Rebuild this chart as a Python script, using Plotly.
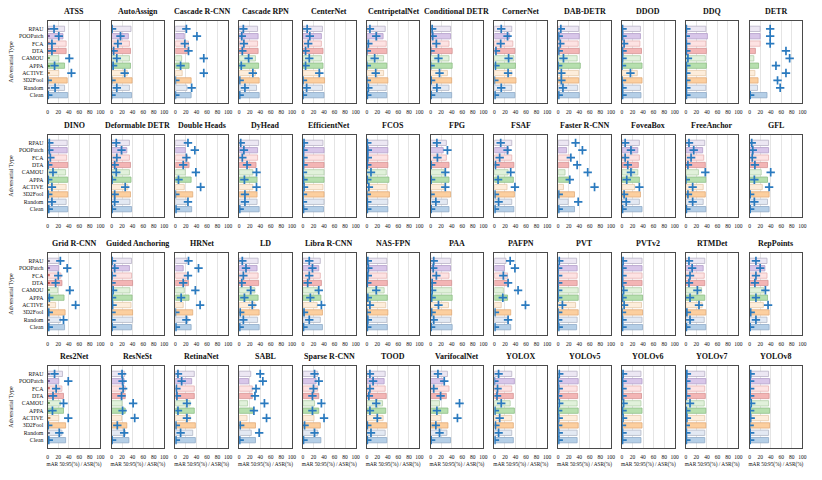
import plotly.graph_objects as go

ATTACKS = ["RPAU", "POOPatch", "FCA", "DTA", "CAMOU", "APPA", "ACTIVE", "3D2Fool", "Random", "Clean"]

MODELS = ["ATSS", "AutoAssign", "Cascade R-CNN", "Cascade RPN", "CenterNet", "CentripetalNet",
          "Conditional DETR", "CornerNet", "DAB-DETR", "DDOD", "DDQ", "DETR",
          "DINO", "Deformable DETR", "Double Heads", "DyHead", "EfficientNet", "FCOS",
          "FPG", "FSAF", "Faster R-CNN", "FoveaBox", "FreeAnchor", "GFL",
          "Grid R-CNN", "Guided Anchoring", "HRNet", "LD", "Libra R-CNN", "NAS-FPN",
          "PAA", "PAFPN", "PVT", "PVTv2", "RTMDet", "RepPoints",
          "Res2Net", "ResNeSt", "RetinaNet", "SABL", "Sparse R-CNN", "TOOD",
          "VarifocalNet", "YOLOX", "YOLOv5", "YOLOv6", "YOLOv7", "YOLOv8"]

# mAR 50:95 (%) per attack, same order as ATTACKS
MAR = [
    [32, 29, 35, 35, 21, 32, 21, 37, 32, 38],   # ATSS
    [37, 32, 34, 36, 34, 36, 30, 39, 34, 38],   # AutoAssign
    [19, 17, 25, 23, 12, 26, 13, 30, 22, 30],   # Cascade R-CNN
    [35, 36, 35, 36, 31, 37, 31, 38, 33, 38],   # Cascade RPN
    [37, 35, 35, 38, 35, 38, 33, 41, 37, 40],   # CenterNet
    [35, 31, 37, 38, 32, 38, 32, 40, 37, 38],   # CentripetalNet
    [38, 38, 35, 41, 35, 41, 32, 40, 35, 40],   # Conditional DETR
    [33, 29, 35, 39, 37, 40, 33, 41, 33, 39],   # CornerNet
    [39, 40, 38, 40, 36, 42, 39, 39, 37, 40],   # DAB-DETR
    [35, 35, 34, 37, 35, 38, 29, 38, 35, 36],   # DDOD
    [38, 41, 38, 39, 37, 39, 38, 39, 38, 39],   # DDQ
    [20, 20, 20, 11, 8, 17, 10, 16, 15, 33],    # DETR
    [37, 37, 36, 38, 34, 38, 35, 38, 35, 38],   # DINO
    [34, 29, 34, 36, 34, 37, 31, 36, 35, 38],   # Deformable DETR
    [20, 19, 23, 26, 19, 30, 17, 33, 23, 31],   # Double Heads
    [37, 35, 35, 32, 26, 34, 26, 34, 34, 38],   # DyHead
    [38, 40, 40, 40, 40, 40, 38, 40, 40, 39],   # EfficientNet
    [40, 40, 40, 40, 37, 42, 38, 43, 40, 40],   # FCOS
    [30, 24, 30, 35, 26, 35, 26, 38, 32, 35],   # FPG
    [33, 27, 33, 37, 26, 36, 24, 38, 33, 37],   # FSAF
    [20, 16, 23, 20, 13, 20, 10, 31, 19, 31],   # Faster R-CNN
    [33, 30, 33, 31, 30, 33, 24, 35, 33, 38],   # FoveaBox
    [36, 32, 34, 37, 24, 38, 33, 37, 33, 38],   # FreeAnchor
    [36, 36, 36, 34, 22, 34, 24, 37, 34, 37],   # GFL
    [21, 21, 25, 27, 19, 31, 15, 33, 24, 32],   # Grid R-CNN
    [38, 34, 38, 40, 35, 39, 37, 40, 40, 38],   # Guided Anchoring
    [22, 15, 24, 25, 17, 26, 15, 33, 24, 30],   # HRNet
    [36, 34, 36, 37, 30, 36, 30, 38, 35, 38],   # LD
    [33, 30, 33, 35, 28, 34, 27, 37, 33, 37],   # Libra R-CNN
    [38, 38, 38, 39, 33, 39, 36, 40, 38, 39],   # NAS-FPN
    [38, 38, 35, 40, 40, 41, 34, 40, 38, 41],   # PAA
    [22, 19, 25, 27, 17, 25, 13, 31, 25, 31],   # PAFPN
    [35, 36, 36, 36, 38, 38, 33, 38, 36, 35],   # PVT
    [38, 38, 38, 38, 37, 39, 37, 39, 38, 39],   # PVTv2
    [36, 33, 35, 36, 30, 36, 31, 38, 35, 38],   # RTMDet
    [33, 29, 33, 35, 27, 34, 26, 37, 33, 37],   # RepPoints
    [28, 21, 27, 30, 24, 30, 21, 34, 27, 34],   # Res2Net
    [25, 24, 26, 26, 20, 26, 19, 29, 26, 33],   # ResNeSt
    [36, 31, 36, 36, 28, 36, 28, 38, 33, 38],   # RetinaNet
    [22, 18, 25, 25, 16, 26, 15, 31, 23, 31],   # SABL
    [28, 25, 28, 30, 22, 30, 21, 33, 28, 34],   # Sparse R-CNN
    [35, 33, 35, 37, 30, 36, 31, 38, 35, 38],   # TOOD
    [32, 24, 35, 30, 17, 33, 19, 33, 31, 38],   # VarifocalNet
    [33, 38, 33, 36, 30, 38, 33, 36, 33, 36],   # YOLOX
    [36, 38, 36, 37, 36, 38, 36, 38, 36, 36],   # YOLOv5
    [36, 38, 36, 37, 36, 38, 36, 38, 36, 36],   # YOLOv6
    [36, 38, 36, 37, 35, 38, 36, 38, 36, 36],   # YOLOv7
    [36, 38, 36, 37, 36, 38, 36, 38, 36, 36],   # YOLOv8
]

# ASR (%) per attack
ASR = [
    [12, 21, 8, 8, 41, 13, 45, 0, 14, 1],       # ATSS
    [1, 17, 12, 4, 10, 3, 25, 0, 10, 0],        # AutoAssign
    [21, 41, 18, 25, 54, 10, 54, 0, 31, 0],     # Cascade R-CNN
    [8, 5, 9, 6, 18, 4, 26, 1, 11, 1],          # Cascade RPN
    [8, 13, 10, 5, 12, 5, 31, 0, 7, 0],         # CenterNet
    [6, 18, 3, 0, 15, 0, 17, 0, 3, 1],          # CentripetalNet
    [3, 4, 11, 0, 15, 0, 17, 1, 12, 1],         # Conditional DETR
    [13, 25, 12, 3, 27, 2, 26, 0, 13, 1],       # CornerNet
    [5, 1, 4, 1, 10, 0, 6, 6, 9, 1],            # DAB-DETR
    [1, 1, 4, 1, 1, 0, 16, 0, 1, 1],            # DDOD
    [1, 0, 1, 1, 4, 1, 1, 1, 1, 1],             # DDQ
    [39, 39, 39, 69, 76, 50, 69, 53, 58, 1],    # DETR
    [3, 3, 5, 1, 10, 1, 8, 1, 8, 2],            # DINO
    [9, 19, 10, 6, 9, 1, 26, 6, 6, 1],          # Deformable DETR
    [24, 37, 21, 15, 39, 6, 48, 0, 24, 1],      # Double Heads
    [3, 9, 6, 15, 33, 10, 33, 11, 11, 1],       # DyHead
    [2, 1, 1, 1, 0, 1, 2, 0, 0, 1],             # EfficientNet
    [1, 2, 2, 1, 8, 1, 4, 0, 1, 1],             # FCOS
    [12, 32, 13, 1, 28, 1, 28, 0, 10, 1],       # FPG
    [12, 25, 10, 2, 31, 7, 39, 1, 8, 1],        # FSAF
    [33, 46, 24, 36, 56, 22, 69, 1, 38, 1],     # Faster R-CNN
    [6, 17, 6, 11, 17, 9, 33, 4, 8, 1],         # FoveaBox
    [6, 15, 10, 4, 37, 0, 13, 4, 13, 1],        # FreeAnchor
    [4, 6, 5, 10, 40, 9, 37, 1, 9, 1],          # GFL
    [24, 37, 20, 15, 42, 3, 53, 2, 30, 2],      # Grid R-CNN
    [1, 6, 1, 0, 3, 1, 2, 0, 0, 1],             # Guided Anchoring
    [25, 44, 24, 15, 38, 11, 47, 0, 21, 1],     # HRNet
    [6, 13, 8, 5, 22, 10, 25, 2, 8, 1],         # LD
    [12, 18, 12, 9, 30, 14, 35, 2, 12, 1],      # Libra R-CNN
    [2, 3, 2, 1, 18, 2, 6, 0, 2, 1],            # NAS-FPN
    [6, 5, 11, 3, 3, 2, 15, 2, 6, 1],           # PAA
    [30, 39, 17, 26, 45, 16, 59, 1, 26, 1],     # PAFPN
    [2, 0, 0, 0, 0, 0, 8, 0, 0, 1],             # PVT
    [2, 1, 1, 1, 3, 1, 4, 0, 1, 1],             # PVTv2
    [6, 12, 8, 6, 22, 8, 25, 2, 8, 1],          # RTMDet
    [12, 20, 12, 10, 30, 12, 35, 2, 12, 1],     # RepPoints
    [13, 39, 16, 10, 30, 9, 39, 1, 22, 2],      # Res2Net
    [20, 21, 22, 19, 41, 21, 44, 11, 24, 1],    # ResNeSt
    [5, 12, 2, 3, 22, 5, 22, 1, 10, 1],         # RetinaNet
    [40, 45, 32, 30, 48, 28, 52, 2, 38, 1],     # SABL
    [22, 30, 20, 18, 35, 18, 40, 3, 22, 1],     # Sparse R-CNN
    [6, 12, 6, 4, 18, 6, 20, 1, 8, 1],          # TOOD
    [14, 26, 6, 19, 55, 12, 51, 10, 17, 1],     # VarifocalNet
    [8, 0, 6, 5, 13, 1, 10, 2, 8, 1],           # YOLOX
    [2, 0, 1, 0, 2, 0, 1, 0, 1, 1],             # YOLOv5
    [2, 1, 1, 1, 3, 1, 2, 0, 1, 1],             # YOLOv6
    [2, 1, 1, 1, 8, 1, 2, 0, 1, 1],             # YOLOv7
    [2, 1, 1, 1, 3, 1, 2, 0, 1, 1],             # YOLOv8
]

# short dark secondary bars visible near zero in a few panels
STUB_MODELS = ["ATSS", "Grid R-CNN", "Res2Net"]
STUB_VALUES = [
    [4, 4, 4, 4, 4, 4, 4, 0, 4, 2],
    [4, 4, 4, 4, 4, 4, 4, 2, 4, 2],
    [4, 4, 4, 4, 4, 4, 5, 1, 4, 2],
]

FILL = ["#ece7f3", "#d8c6e9", "#fde3e3", "#f3b5b5", "#e1f1db",
        "#b6dfae", "#fdeddb", "#fccf9f", "#e3e9f3", "#b5cfe7"]
EDGE = ["#b9b3c6", "#b29dc9", "#e6b3b3", "#d49393", "#b3cfaa",
        "#8fbf87", "#e6c9a9", "#e2ac78", "#b2b9c7", "#8fabc8"]
DARK = ["#6f6984", "#7d5d9e", "#c86a6a", "#b84a4a", "#6c9a60",
        "#4c8a44", "#b88a58", "#b87a3c", "#68728a", "#4a7aa8"]

W, H = 822, 480
NCOL = 12
X0, DX, PW = 47.0, 64.2, 53.0
ROW_TOP = [21, 135, 253, 366]
PH = 82.0
FONT = "Liberation Serif, Times New Roman, serif"

fig = go.Figure()
annotations = []
layout = {}
for i, model in enumerate(MODELS):
    r, c = divmod(i, NCOL)
    k = i + 1
    xs = "" if k == 1 else str(k)
    xl, xr = X0 + c * DX, X0 + c * DX + PW
    yt, yb = ROW_TOP[r], ROW_TOP[r] + PH
    fig.add_trace(go.Bar(
        x=MAR[i], y=ATTACKS, orientation="h", width=0.72,
        marker=dict(color=FILL, line=dict(color=EDGE, width=0.8)),
        xaxis="x" + xs, yaxis="y" + xs, showlegend=False, hoverinfo="x+y"))
    if model in STUB_MODELS:
        fig.add_trace(go.Bar(
            x=STUB_VALUES[STUB_MODELS.index(model)], y=ATTACKS, orientation="h", width=0.16,
            marker=dict(color=DARK, line=dict(width=0)),
            xaxis="x" + xs, yaxis="y" + xs, showlegend=False, hoverinfo="skip"))
    fig.add_trace(go.Scatter(
        x=ASR[i], y=ATTACKS, mode="markers",
        marker=dict(symbol="cross-thin", size=6, line=dict(color="#2a7abf", width=1.7)),
        xaxis="x" + xs, yaxis="y" + xs, showlegend=False))
    layout["xaxis" + xs] = dict(
        domain=[xl / W, xr / W], anchor="y" + xs, range=[0, 100],
        tickvals=[0, 20, 40, 60, 80, 100], showgrid=True, gridcolor="#e4e4e4", gridwidth=0.6,
        zeroline=False, showline=True, linecolor="#4a4a4a", linewidth=1.3, mirror=True,
        ticks="", tickfont=dict(family=FONT, size=5.5, color="#111"), ticklabelstandoff=3,
        title=dict(text="mAR 50:95(%) / ASR(%)" if r == 3 else "",
                   font=dict(family=FONT, size=5.3, color="#111"), standoff=3))
    layout["yaxis" + xs] = dict(
        domain=[1 - yb / H, 1 - yt / H], anchor="x" + xs, type="category",
        categoryorder="array", categoryarray=ATTACKS, autorange="reversed",
        showgrid=False, zeroline=False, showline=True, linecolor="#4a4a4a", linewidth=1.3,
        mirror=True, ticks="", showticklabels=(c == 0),
        tickfont=dict(family=FONT, size=5.8, color="#111"), ticklabelstandoff=2,
        title=dict(text="Adversarial Type" if c == 0 else "",
                   font=dict(family=FONT, size=6, color="#111"), standoff=4))
    annotations.append(dict(
        text="<b>%s</b>" % model, x=(xl + xr) / 2 / W, y=1 - (yt - 3) / H,
        xref="paper", yref="paper", xanchor="center", yanchor="bottom", showarrow=False,
        font=dict(family=FONT, size=8, color="#111")))

fig.update_layout(
    width=W, height=H, margin=dict(l=0, r=0, t=0, b=0),
    paper_bgcolor="white", plot_bgcolor="white", barmode="overlay",
    annotations=annotations, **layout)
fig.write_html("out.html", config={"displayModeBar": False},
               post_script="document.body.style.margin='0';")
